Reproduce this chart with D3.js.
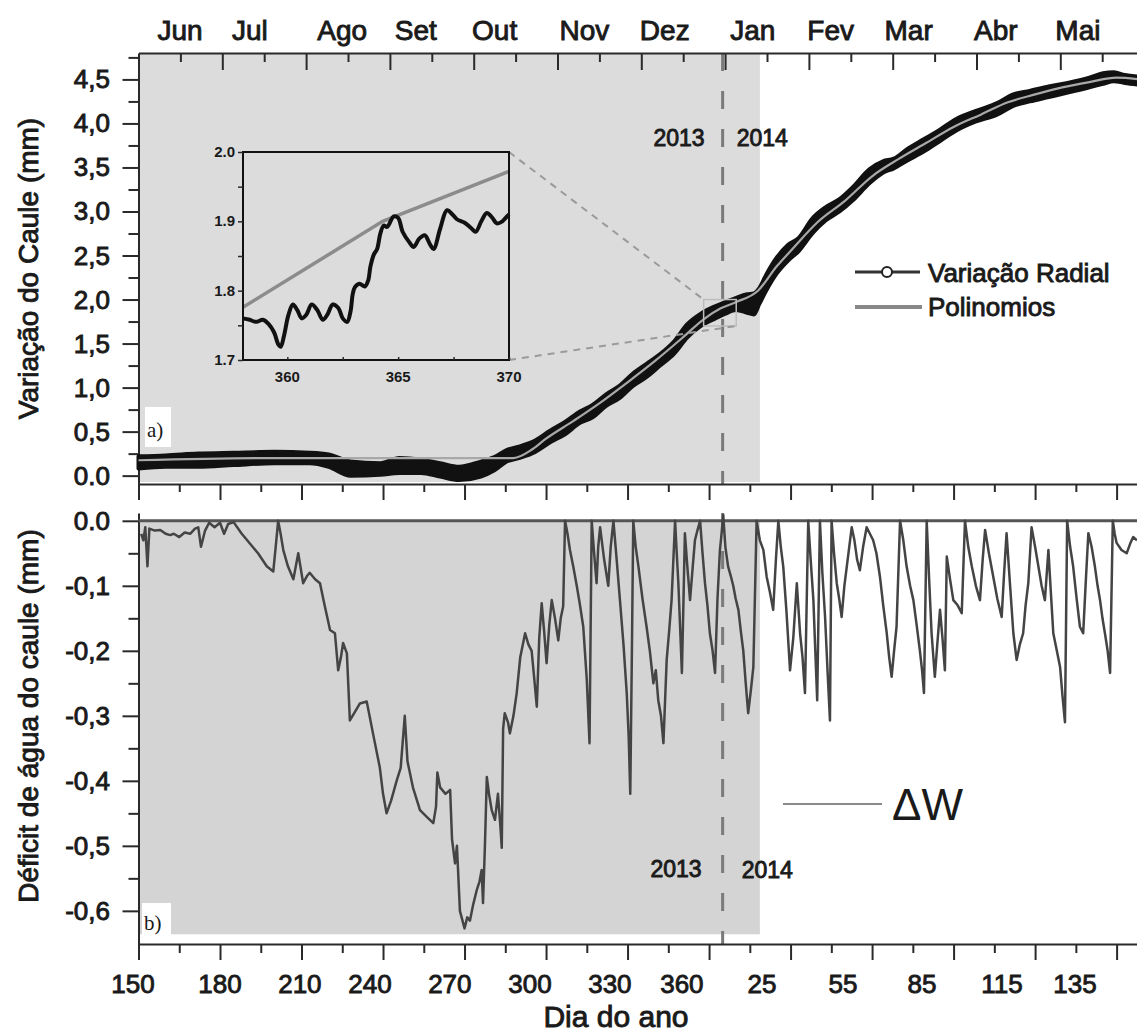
<!DOCTYPE html>
<html><head><meta charset="utf-8">
<script src="https://cdn.jsdelivr.net/npm/d3@7"></script>
<style>
body{margin:0;background:#fff}
svg{display:block}
text{font-family:"Liberation Sans",Arial,Helvetica,sans-serif;fill:#1a1a1a}
.sb{paint-order:stroke;stroke:#1a1a1a;stroke-width:0.9px}
</style>
</head><body>
<svg id="c" width="1137" height="1034"></svg>
<script>
// ---------------- data ----------------
const months = ["Jun","Jul","Ago","Set","Out","Nov","Dez","Jan","Fev","Mar","Abr","Mai"];
const monthAt = [0.495,1.33,2.43,3.31,4.25,5.32,6.28,7.33,8.26,9.19,10.23,11.21];
const dayTickLabels = ["150","180","210","240","270","300","330","360","25","55","85","115","135"];
const dayLabelAt = [148.0,180.0,209.4,235.2,264.6,294.1,323.5,350.0,379.5,409.3,438.4,467.8,494.7];
const topYTicks = [0,0.5,1,1.5,2,2.5,3,3.5,4,4.5];
const topYLabels = ["0.0","0,5","1,0","1,5","2,0","2,5","3,0","3,5","4,0","4,5"];
const botYTicks = [0,-0.1,-0.2,-0.3,-0.4,-0.5,-0.6];
const botYLabels = ["0.0","-0,1","-0,2","-0,3","-0,4","-0,5","-0,6"];
const insetXTicks = [360,365,370];
const insetYTicks = [1.7,1.8,1.9,2.0];
const insetYLabels = ["1.7","1.8","1.9","2.0"];
const yearLabels = ["2013","2014"];
const yearBoundary = 365;
const shadeEnd = 378.7;

// Variação Radial (band: low / high envelope)
const radDay = [150,160,172,185,200,213,220,228,239,246,254,261,268,276,281,285.5,290,296,301.5,307,312.5,317,322,327,332,337,342,347,352,357,362,366,370,374,376.5,378.5,381,385,389,393,398,403,408,413,419,424,428,433,439,445,451,458,466,472,478,485,492,500,505,509,513,518.5];
const radLo = [0.08,0.10,0.10,0.12,0.14,0.14,0.10,0.00,0.01,0.03,0.03,-0.01,-0.05,-0.01,0.06,0.16,0.20,0.27,0.38,0.47,0.60,0.66,0.79,0.88,1.02,1.12,1.25,1.38,1.57,1.70,1.78,1.84,1.88,1.85,1.83,1.95,2.10,2.30,2.44,2.55,2.75,2.90,3.00,3.13,3.32,3.44,3.49,3.58,3.68,3.80,3.92,4.02,4.10,4.20,4.25,4.30,4.35,4.41,4.45,4.48,4.46,4.44];
const radHi = [0.22,0.23,0.25,0.26,0.27,0.26,0.24,0.16,0.14,0.20,0.18,0.14,0.10,0.16,0.21,0.29,0.33,0.40,0.51,0.61,0.73,0.80,0.92,1.02,1.16,1.27,1.38,1.52,1.72,1.84,1.92,1.97,2.02,2.06,2.07,2.13,2.28,2.48,2.62,2.70,2.92,3.05,3.14,3.28,3.48,3.57,3.60,3.71,3.82,3.93,4.05,4.14,4.23,4.33,4.37,4.42,4.46,4.52,4.57,4.58,4.55,4.53];

// Polinomios
const polyDay = [150,200,288,295,300,310,320,330,340,350,358,364.3,370,378,385,390,400,410,420,430,440,450,460,470,480,490,500,510,518.5];
const polyVal = [0.175,0.2,0.2,0.3,0.42,0.62,0.83,1.06,1.30,1.56,1.776,1.90,1.972,2.1,2.38,2.55,2.88,3.12,3.40,3.60,3.78,3.96,4.10,4.24,4.33,4.41,4.47,4.52,4.50];

// inset (zoom on days 358-370)
const insetDay = [358.0,358.3,358.6,358.9,359.15,359.4,359.6,359.7,359.85,360.05,360.25,360.45,360.65,360.85,361.1,361.35,361.6,361.8,362.05,362.3,362.5,362.7,362.85,362.95,363.05,363.25,363.5,363.65,363.75,363.9,364.05,364.2,364.35,364.5,364.8,365.0,365.2,365.5,365.7,365.95,366.2,366.45,366.6,366.9,367.2,367.45,367.65,368.0,368.3,368.5,368.75,369.0,369.25,369.45,369.7,369.85,370.0];
const insetVal = [1.760,1.758,1.755,1.758,1.752,1.740,1.722,1.719,1.735,1.765,1.780,1.772,1.760,1.765,1.780,1.772,1.758,1.765,1.780,1.775,1.760,1.755,1.770,1.795,1.805,1.810,1.806,1.815,1.835,1.852,1.860,1.883,1.894,1.892,1.907,1.905,1.885,1.870,1.863,1.875,1.880,1.866,1.860,1.890,1.916,1.910,1.903,1.898,1.890,1.885,1.900,1.912,1.905,1.897,1.900,1.905,1.910];
const insetPolyDay = [358,364.3,370];
const insetPolyVal = [1.776,1.90,1.972];

// Déficit de água do caule (ΔW)
const dwDay = [151,151.8,152.5,153.3,154,156,158,160,161.6,163,165,167,169,170.8,172,173,174.5,176,178,180,181.5,183,185,188,191,194,197.2,199.6,200.5,201.4,202.3,203.3,205,207,208.8,210.6,212,213,215,216.8,218.5,220.5,222.3,223.5,224.5,225.3,226.7,227.8,229.5,231.5,234,236.3,238.8,240,241.3,243,245,246.5,248,249,251,253.6,256,258.5,259.5,260,261,263,264.7,265.4,266.5,267.2,268.3,270,271,272,273.2,274.5,275.5,276.3,276.8,277.5,278.2,279,280,281.2,282.3,283.2,283.7,284.2,284.8,286,286.7,288,289.2,290.5,292.3,293.5,294.7,295.6,296.6,297.5,298.4,299.3,300.2,301.2,302.1,303.3,304.5,305.4,306.3,307,307.9,308.8,310,311.3,312.5,313.7,315,316,316.8,317.7,318.6,319.2,319.9,321.4,322.9,323.8,324.8,326,327.2,328.5,329.7,330.4,331,331.6,332.1,333,334,335.5,337,338.2,339.5,340.4,341.3,342.3,343.2,344.4,345.3,346.2,347.5,348.1,348.7,349.4,350,350.6,351.1,352,353,354,354.8,355.7,356.7,357.6,358.5,359.4,360.3,361.3,362.2,363.1,364,364.6,365.2,366,367,368,368.9,369.8,370.8,371.7,372.6,373.5,374.4,375.4,376.3,377.5,378.7,380,381.2,382.4,383.6,384.6,385.5,386.4,387.3,388.5,389.8,391,392.3,393.5,394.4,395.3,396.5,397.4,398.4,399.1,399.8,400.8,401.7,402.7,403.6,404.5,405.1,406,407,407.9,408.8,409.8,410.7,411.6,412.5,413.5,414.5,415.5,416.7,418,419.2,420.4,421.6,422.9,424.1,425.4,426.3,427.2,428.1,429,430.3,431.5,432.7,434,435.2,436.4,437.6,438.4,439.1,440.1,441,441.9,443.1,444,445,445.9,446.8,447.5,448.7,449.9,451.5,453,454.2,455.4,456.7,458.2,459.7,460.7,461.6,463,464.6,466.1,467.7,468.6,469.5,470.8,472,473.2,474.4,475.6,476.5,477.5,478.7,480,481.2,482.4,483.6,484.9,485.8,486.7,488,489.2,490.1,491,491.8,492.9,494,495.3,496.5,497.7,498.7,499.6,500.8,502,503,503.9,504.8,505.7,506.7,507.6,508.6,509.3,510,511.8,513.7,515,516.1,517.5];
const dwVal = [-0.02,-0.03,-0.01,-0.07,-0.012,-0.015,-0.014,-0.02,-0.022,-0.02,-0.025,-0.018,-0.02,-0.012,-0.01,-0.04,-0.015,-0.003,-0.01,-0.003,-0.02,-0.005,-0.002,-0.02,-0.035,-0.05,-0.07,-0.078,-0.04,0,-0.02,-0.045,-0.07,-0.09,-0.05,-0.096,-0.085,-0.08,-0.09,-0.096,-0.13,-0.168,-0.173,-0.23,-0.21,-0.188,-0.204,-0.307,-0.295,-0.281,-0.278,-0.327,-0.379,-0.42,-0.45,-0.43,-0.40,-0.38,-0.30,-0.37,-0.41,-0.445,-0.455,-0.465,-0.44,-0.387,-0.41,-0.42,-0.414,-0.49,-0.527,-0.50,-0.60,-0.627,-0.61,-0.615,-0.59,-0.568,-0.555,-0.537,-0.588,-0.50,-0.394,-0.42,-0.445,-0.46,-0.42,-0.47,-0.503,-0.32,-0.296,-0.31,-0.327,-0.30,-0.265,-0.21,-0.173,-0.19,-0.2,-0.24,-0.286,-0.18,-0.127,-0.17,-0.219,-0.16,-0.122,-0.15,-0.184,-0.15,-0.132,0,-0.02,-0.045,-0.07,-0.10,-0.13,-0.163,-0.245,-0.342,0,-0.05,-0.096,-0.04,-0.01,-0.06,-0.10,-0.04,0,-0.06,-0.122,-0.19,-0.265,-0.33,-0.42,-0.2,0,-0.04,-0.07,-0.12,-0.163,-0.2,-0.25,-0.23,-0.276,-0.30,-0.342,-0.214,-0.17,-0.122,0,-0.05,-0.096,-0.17,-0.234,-0.12,-0.019,-0.07,-0.122,-0.07,-0.03,-0.015,0,-0.05,-0.096,-0.13,-0.173,-0.2,-0.234,-0.12,-0.045,-0.02,0.009,-0.04,-0.07,-0.085,-0.10,-0.12,-0.137,-0.17,-0.2,-0.25,-0.296,-0.26,-0.225,0,-0.03,-0.045,-0.086,-0.11,-0.137,-0.06,0,-0.04,-0.07,-0.14,-0.23,-0.18,-0.096,-0.173,-0.21,-0.265,0,-0.06,-0.122,-0.2,-0.276,0,-0.08,-0.148,-0.23,-0.307,0,-0.05,-0.096,-0.12,-0.148,-0.1,-0.07,-0.04,-0.01,-0.03,-0.06,-0.076,-0.04,-0.01,-0.02,-0.03,-0.05,-0.086,-0.13,-0.173,-0.21,-0.24,-0.2,-0.163,0,-0.03,-0.07,-0.1,-0.122,-0.16,-0.2,-0.23,-0.265,0,-0.09,-0.173,-0.24,-0.19,-0.137,-0.18,-0.23,-0.055,-0.09,-0.122,-0.13,-0.142,0,-0.04,-0.07,-0.1,-0.122,-0.06,-0.014,-0.05,-0.086,-0.12,-0.148,-0.08,-0.019,-0.1,-0.173,-0.214,-0.19,-0.173,-0.13,-0.096,-0.01,-0.04,-0.07,-0.1,-0.122,-0.045,-0.11,-0.173,-0.2,-0.225,-0.27,-0.31,0,-0.04,-0.07,-0.12,-0.163,-0.173,-0.09,-0.019,-0.04,-0.07,-0.1,-0.122,-0.15,-0.173,-0.2,-0.234,0,-0.02,-0.034,-0.045,-0.05,-0.035,-0.025,-0.03];

// ---------------- chart ----------------
const svg = d3.select("#c");
const W = 1137;
const x = d3.scaleLinear().domain([150, 518.5]).range([138.5, 1139.7]);
const xm = d3.scaleLinear().domain([0, 12]).range([138.5, 1144.1]);
const yT = d3.scaleLinear().domain([-0.095, 4.8]).range([484, 53]);
const yB = d3.scaleLinear().domain([-0.651, 0.012]).range([944, 513]);
const AX = "#2a2a2a";

function styleAxis(g, w){
  g.selectAll("path.domain").attr("stroke", AX).attr("stroke-width", w || 2);
  g.selectAll(".tick line").attr("stroke", AX).attr("stroke-width", 2);
  g.selectAll(".tick text").remove();
}
const majorsDay = d3.range(150, 519, 30);
const minorsDay = d3.range(165, 519, 30);

// shading
svg.append("rect").attr("x", x(150)).attr("y", yT(4.8)).attr("width", x(shadeEnd)-x(150)).attr("height", yT(-0.095)-yT(4.8)-2).attr("fill", "#dcdcdc");
svg.append("rect").attr("x", x(150)).attr("y", yB(0)).attr("width", x(shadeEnd)-x(150)).attr("height", yB(-0.636)-yB(0)).attr("fill", "#d4d4d4");

// year boundary dashed line
[[yT(4.8), yT(-0.095)],[yB(0.012), yB(-0.651)]].forEach(([a,b])=>{
  svg.append("line").attr("x1", x(yearBoundary)).attr("x2", x(yearBoundary)).attr("y1", a).attr("y2", b)
    .attr("stroke", "#7a7a7a").attr("stroke-width", 3).attr("stroke-dasharray", "18,20");
});

// ---- top panel axes ----
let g = svg.append("g").attr("transform", `translate(0,${yT(4.8)})`)
  .call(d3.axisTop(xm).tickValues(d3.range(1, 12)).tickSizeInner(-17).tickSizeOuter(0));
styleAxis(g);
g = svg.append("g").attr("transform", `translate(0,${yT(4.8)})`)
  .call(d3.axisTop(xm).tickValues(d3.range(0.5, 12, 1)).tickSizeInner(-9).tickSizeOuter(0));
styleAxis(g); g.select("path.domain").remove();
months.forEach((m,i)=>{
  svg.append("text").attr("x", xm(monthAt[i])).attr("y", 40).attr("text-anchor","middle")
    .attr("font-size", 28).attr("class","sb").text(m);
});
g = svg.append("g").attr("transform", `translate(0,${yT(-0.095)})`)
  .call(d3.axisBottom(x).tickValues(majorsDay).tickSizeInner(16).tickSizeOuter(0));
styleAxis(g);
g = svg.append("g").attr("transform", `translate(0,${yT(-0.095)})`)
  .call(d3.axisBottom(x).tickValues(minorsDay).tickSizeInner(8).tickSizeOuter(0));
styleAxis(g); g.select("path.domain").remove();
g = svg.append("g").attr("transform", `translate(${x(150)},0)`)
  .call(d3.axisLeft(yT).tickValues(topYTicks).tickSizeInner(16).tickSizeOuter(0));
styleAxis(g);
g = svg.append("g").attr("transform", `translate(${x(150)},0)`)
  .call(d3.axisLeft(yT).tickValues(d3.range(0.25, 4.8, 0.5)).tickSizeInner(10).tickSizeOuter(0));
styleAxis(g); g.select("path.domain").remove();
topYTicks.forEach((v,i)=>{
  svg.append("text").attr("x", 110).attr("y", yT(v)+9).attr("text-anchor","end")
    .attr("font-size", 26).attr("class","sb").text(topYLabels[i]);
});
svg.append("text").attr("transform", `translate(38,${(yT(4.8)+yT(-0.095))/2}) rotate(-90)`)
  .attr("text-anchor","middle").attr("font-size", 28).attr("class","sb").text("Variação do Caule (mm)");

// "a)" label
svg.append("rect").attr("x", 145).attr("y", 407).attr("width", 26).attr("height", 40).attr("fill", "#fff");
svg.append("text").attr("x", 147).attr("y", 437)
  .attr("font-size", 21).style("font-family","'Liberation Serif','Times New Roman',serif").text("a)");

// year labels top
svg.append("text").attr("x", x(yearBoundary)-18).attr("y", 146).attr("text-anchor","end").attr("font-size", 23).attr("class","sb").text(yearLabels[0]);
svg.append("text").attr("x", x(yearBoundary)+14).attr("y", 146).attr("font-size", 23).attr("class","sb").text(yearLabels[1]);

// radial band
const rad = radDay.map((d,i)=>({d, lo: radLo[i], hi: radHi[i]}));
svg.append("path").datum(rad)
  .attr("d", d3.area().x(p=>x(p.d)).y0(p=>yT(p.lo)).y1(p=>yT(p.hi)).curve(d3.curveMonotoneX))
  .attr("fill", "#111").attr("stroke", "#111").attr("stroke-width", 4).attr("stroke-linejoin","round");
svg.append("path").datum(polyDay.map((d,i)=>[d, polyVal[i]]))
  .attr("d", d3.line().x(p=>x(p[0])).y(p=>yT(p[1])).curve(d3.curveMonotoneX))
  .attr("fill","none").attr("stroke","#a8a8a8").attr("stroke-width", 2.2);

// zoom rectangle + connectors
const zx0 = x(358), zx1 = x(370), zy0 = yT(2.0), zy1 = yT(1.7);
svg.append("rect").attr("x", zx0).attr("y", zy0).attr("width", zx1-zx0).attr("height", zy1-zy0)
  .attr("fill","none").attr("stroke","#bdbdbd").attr("stroke-width",1.5);

// inset
const xi = d3.scaleLinear().domain([358, 370]).range([243, 509]);
const yi = d3.scaleLinear().domain([1.7, 2.0]).range([360, 152]);
svg.append("line").attr("x1", xi(370)).attr("y1", yi(2.0)).attr("x2", zx0).attr("y2", zy0)
  .attr("stroke","#9a9a9a").attr("stroke-width",2).attr("stroke-dasharray","7,6");
svg.append("line").attr("x1", xi(370)).attr("y1", yi(1.7)).attr("x2", zx1).attr("y2", zy1)
  .attr("stroke","#9a9a9a").attr("stroke-width",2).attr("stroke-dasharray","7,6");
svg.append("path").datum(insetPolyDay.map((d,i)=>[d, insetPolyVal[i]]))
  .attr("d", d3.line().x(p=>xi(p[0])).y(p=>yi(p[1])))
  .attr("fill","none").attr("stroke","#8c8c8c").attr("stroke-width",3.5);
svg.append("path").datum(insetDay.map((d,i)=>[d, insetVal[i]]))
  .attr("d", d3.line().x(p=>xi(p[0])).y(p=>yi(p[1])).curve(d3.curveCatmullRom))
  .attr("fill","none").attr("stroke","#111").attr("stroke-width",4).attr("stroke-linejoin","round");
svg.append("rect").attr("x", xi(358)).attr("y", yi(2.0)).attr("width", xi(370)-xi(358)).attr("height", yi(1.7)-yi(2.0))
  .attr("fill","none").attr("stroke","#111").attr("stroke-width",2);
g = svg.append("g").attr("transform", `translate(${xi(358)},0)`)
  .call(d3.axisLeft(yi).tickValues(d3.range(1.7, 2.01, 0.05)).tickSizeInner(5).tickSizeOuter(0));
styleAxis(g,0); g.select("path.domain").remove();
g.selectAll(".tick line").attr("stroke-width",1.5);
g = svg.append("g").attr("transform", `translate(0,${yi(1.7)})`)
  .call(d3.axisTop(xi).tickValues(d3.range(360, 371, 2.5)).tickSizeInner(3).tickSizeOuter(0));
styleAxis(g,0); g.select("path.domain").remove();
g.selectAll(".tick line").attr("stroke-width",1.5);
insetYTicks.forEach((v,i)=>{
  svg.append("text").attr("x", 235).attr("y", yi(v)+5).attr("text-anchor","end").attr("font-size", 15)
    .attr("font-weight","bold").text(insetYLabels[i]);
});
insetXTicks.forEach(v=>{
  svg.append("text").attr("x", xi(v)).attr("y", 382).attr("text-anchor","middle").attr("font-size", 15)
    .attr("font-weight","bold").text(String(v));
});

// legend top
svg.append("line").attr("x1",855).attr("x2",920).attr("y1",272).attr("y2",272).attr("stroke","#333").attr("stroke-width",3);
svg.append("circle").attr("cx",887).attr("cy",272).attr("r",5).attr("fill","#fff").attr("stroke","#222").attr("stroke-width",2);
svg.append("text").attr("x",928).attr("y",282).attr("font-size",26).attr("class","sb").text("Variação Radial");
svg.append("line").attr("x1",855).attr("x2",922).attr("y1",307).attr("y2",307).attr("stroke","#888").attr("stroke-width",4);
svg.append("text").attr("x",928).attr("y",316).attr("font-size",26).attr("class","sb").text("Polinomios");

// ---- bottom panel ----
g = svg.append("g").attr("transform", `translate(0,${yB(-0.651)})`)
  .call(d3.axisBottom(x).tickValues(majorsDay).tickSizeInner(16).tickSizeOuter(0));
styleAxis(g);
g = svg.append("g").attr("transform", `translate(0,${yB(-0.651)})`)
  .call(d3.axisBottom(x).tickValues(minorsDay).tickSizeInner(9).tickSizeOuter(0));
styleAxis(g); g.select("path.domain").remove();
g = svg.append("g").attr("transform", `translate(${x(150)},0)`)
  .call(d3.axisLeft(yB).tickValues(botYTicks).tickSizeInner(16).tickSizeOuter(0));
styleAxis(g);
g = svg.append("g").attr("transform", `translate(${x(150)},0)`)
  .call(d3.axisLeft(yB).tickValues(d3.range(-0.05, -0.65, -0.1)).tickSizeInner(10).tickSizeOuter(0));
styleAxis(g); g.select("path.domain").remove();
botYTicks.forEach((v,i)=>{
  svg.append("text").attr("x", 110).attr("y", yB(v)+9).attr("text-anchor","end")
    .attr("font-size", 26).attr("class","sb").text(botYLabels[i]);
});
dayTickLabels.forEach((t,i)=>{
  svg.append("text").attr("x", x(dayLabelAt[i])).attr("y", 993).attr("text-anchor","middle")
    .attr("font-size", 26).attr("class","sb").text(t);
});
svg.append("text").attr("x", 616).attr("y", 1027).attr("text-anchor","middle").attr("font-size", 30)
  .attr("class","sb").text("Dia do ano");
svg.append("text").attr("transform", `translate(38,716) rotate(-90)`)
  .attr("text-anchor","middle").attr("font-size", 28).attr("class","sb").text("Déficit de água do caule (mm)");

// "b)"
svg.append("rect").attr("x", 142).attr("y", 903).attr("width", 29).attr("height", 40).attr("fill", "#fff");
svg.append("text").attr("x", 144).attr("y", 930)
  .attr("font-size", 21).style("font-family","'Liberation Serif','Times New Roman',serif").text("b)");

// year labels bottom
svg.append("text").attr("x", x(yearBoundary)-21).attr("y", 877).attr("text-anchor","end").attr("font-size", 23).attr("class","sb").text(yearLabels[0]);
svg.append("text").attr("x", x(yearBoundary)+19).attr("y", 878).attr("font-size", 23).attr("class","sb").text(yearLabels[1]);

// zero line
svg.append("line").attr("x1", x(150)).attr("x2", W).attr("y1", yB(0)).attr("y2", yB(0))
  .attr("stroke", "#555").attr("stroke-width", 3);

// ΔW series
svg.append("path").datum(dwDay.map((d,i)=>[d, dwVal[i]]))
  .attr("d", d3.line().x(p=>x(p[0])).y(p=>yB(p[1])))
  .attr("fill","none").attr("stroke","#444").attr("stroke-width",2.5).attr("stroke-linejoin","round");

// ΔW legend
svg.append("line").attr("x1",783).attr("x2",882).attr("y1",804).attr("y2",804).attr("stroke","#8a8a8a").attr("stroke-width",2);
svg.append("text").attr("x",892).attr("y",820).attr("font-size",44).text("ΔW");
</script>
</body></html>
